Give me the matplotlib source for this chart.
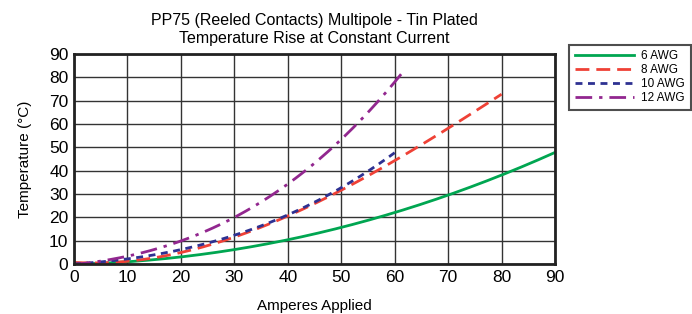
import numpy as np
import matplotlib
matplotlib.use('Agg')
import matplotlib.pyplot as plt

plt.rcParams['font.family'] = ['Liberation Sans', 'DejaVu Sans']

# 读图得到的数据点
amps_6 = [0, 10, 20, 30, 40, 50, 60, 70, 80, 90]
temp_6 = [0, 1, 3, 6, 10.5, 16, 22, 29.6, 37.8, 48]

amps_8 = [0, 10, 20, 30, 40, 50, 60, 70, 80]
temp_8 = [0, 2, 6, 11, 20, 30, 45.5, 59.6, 71.8]

amps_10 = [0, 10, 20, 30, 40, 50, 60]
temp_10 = [0, 2.2, 6.5, 12, 21, 33, 47.6]

amps_12 = [0, 10, 20, 30, 40, 50, 60, 61.5]
temp_12 = [0, 3, 10, 20, 35, 52.5, 78.5, 82]

series = [
    ('6 AWG', amps_6, temp_6, '#00a651', '-'),
    ('8 AWG', amps_8, temp_8, '#ef4136', (0, (5, 2.5))),
    ('10 AWG', amps_10, temp_10, '#2e3192', (0, (2.5, 2))),
    ('12 AWG', amps_12, temp_12, '#92278f', (0, (6, 2.5, 1.2, 2.5))),
]


def smooth(x, y):
    # 三次多项式平滑，只为画线好看
    xs = np.linspace(x[0], x[-1], 200)
    coef = np.polyfit(x, y, 3)
    ys = np.polyval(coef, xs)
    return xs, np.clip(ys, 0, None)


fig = plt.figure(figsize=(6.92, 3.14), dpi=100)
ax = fig.add_axes([0.107, 0.159, 0.695, 0.669])

for label, x, y, color, ls in series:
    xs, ys = smooth(x, y)
    ax.plot(xs, ys, color=color, linestyle=ls, linewidth=2, label=label)

ax.set_xlim(0, 90)
ax.set_ylim(0, 90)
ax.set_xticks(range(0, 91, 10))
ax.set_yticks(range(0, 91, 10))
ax.tick_params(length=0, labelsize=12.5, pad=4)
ax.grid(True, color='#333333', linewidth=1)
for s in ax.spines.values():
    s.set_linewidth(2)
    s.set_color('#222222')

ax.set_xlabel('Amperes Applied', fontsize=11, labelpad=10)
ax.set_ylabel('Temperature (°C)', fontsize=11, labelpad=12)
ax.set_title('PP75 (Reeled Contacts) Multipole - Tin Plated\nTemperature Rise at Constant Current',
             fontsize=11.5, linespacing=1.2, pad=8)

leg = ax.legend(loc='upper left', bbox_to_anchor=(1.03, 1.045), fontsize=8.5,
                frameon=True, fancybox=False, edgecolor='#222222',
                handlelength=5.0, borderpad=0.5, borderaxespad=0,
                labelspacing=0.15, handletextpad=0.6)
leg.get_frame().set_linewidth(1.5)

fig.savefig('out.png', dpi=100)
